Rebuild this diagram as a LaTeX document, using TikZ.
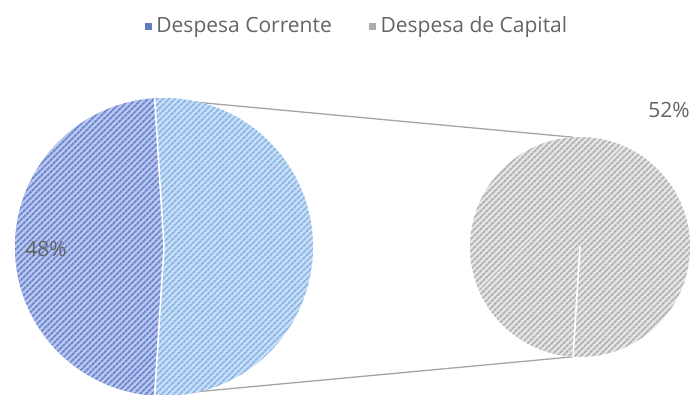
\documentclass[tikz,border=0pt]{standalone}
\usepackage{fontspec}
\setmainfont{Open Sans}
\usepackage{tikz}
\usetikzlibrary{positioning}
\usetikzlibrary{backgrounds}
\usetikzlibrary{patterns.meta}
\definecolor{corrBase}{RGB}{184,198,240}
\definecolor{corrLine}{RGB}{108,134,206}
\definecolor{capBase}{RGB}{200,222,246}
\definecolor{capLine}{RGB}{138,182,230}
\definecolor{subBase}{RGB}{228,228,228}
\definecolor{subLine}{RGB}{178,178,178}
\definecolor{corrKey}{RGB}{98,124,192}
\definecolor{capKey}{RGB}{172,172,172}
\definecolor{textGray}{RGB}{100,100,100}
\definecolor{linkGray}{RGB}{165,165,165}
\tikzset{pie/.style={circle, inner sep=0pt, draw=none}}
\tikzset{hatch/.style={pattern={Lines[angle=45,distance=4pt,line width=1.8pt]}}}
\tikzset{lbl/.style={font=\fontsize{21}{25}\selectfont, text=textGray, inner sep=0pt}}
\tikzset{key/.style={minimum size=7pt, inner sep=0pt}}
\tikzset{link/.style={draw=linkGray, line width=1.3pt}}
\tikzset{cut/.style={draw=white, line width=1.6pt}}

\begin{document}
\begin{tikzpicture}[x=1pt, y=1pt]
	\useasboundingbox (0,0) rectangle (693,394);
	\clip (0,0) rectangle (693,394);
	% the two pies
	\node[pie, minimum size=298pt, preaction={fill=capBase}, hatch, pattern color=capLine] (main) at (164,147) {};
	\node[pie, minimum size=220pt, preaction={fill=subBase}, hatch, pattern color=subLine] (sub) at (580,147) {};
	\path (main.center) ++(93.6:149pt) coordinate (mainTop);
	\path (main.center) ++(-93.6:149pt) coordinate (mainBot);
	\path (sub.center) ++(93.6:110pt) coordinate (subTop);
	\path (sub.center) ++(-93.6:110pt) coordinate (subBot);
	\path[preaction={fill=corrBase}, hatch, pattern color=corrLine] (main.center) -- (mainTop) arc[start angle=93.6, end angle=266.4, radius=149pt] -- cycle;
	\draw[cut] (main.center) -- (mainTop);
	\draw[cut] (main.center) -- (mainBot);
	\draw[cut] (sub.center) -- (subBot);
	\begin{scope}[on background layer]
		\draw[link] (mainTop) -- (subTop);
		\draw[link] (mainBot) -- (subBot);
	\end{scope}
	% labels
	\node[lbl] (pctA) at (46,145) {48\%};
	\node[lbl] (pctB) at (669,284) {52\%};
	% legend
	\node[key, fill=corrKey] (keyA) at (148.5,367) {};
	\node[lbl, right=4pt of keyA] (txtA) {Despesa Corrente};
	\node[key, fill=capKey, right=37pt of txtA] (keyB) {};
	\node[lbl, right=4pt of keyB] (txtB) {Despesa de Capital};
\end{tikzpicture}
\end{document}
